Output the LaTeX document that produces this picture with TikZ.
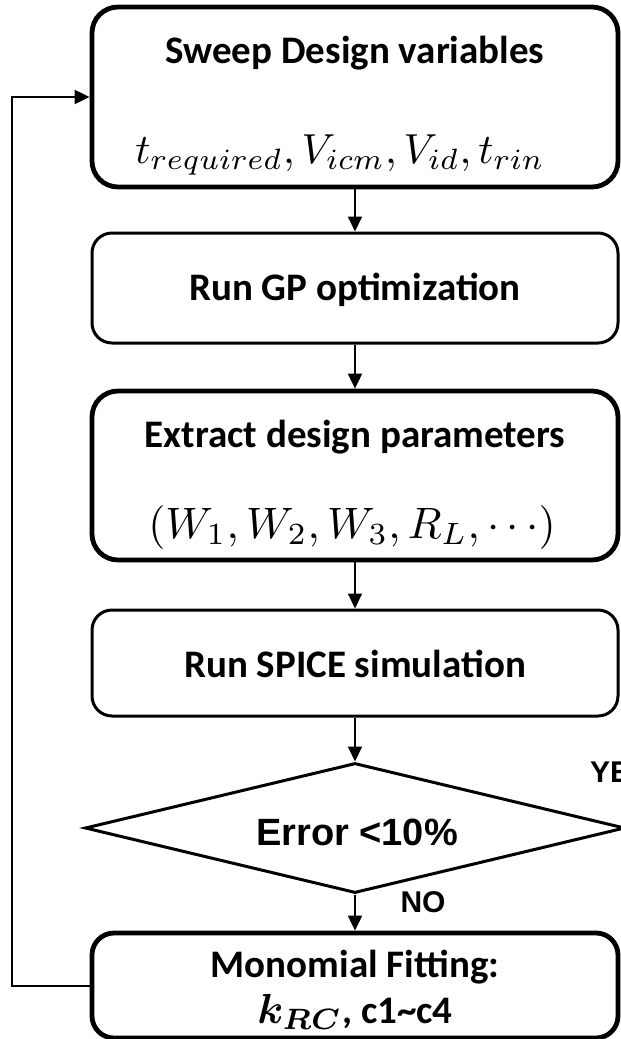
\documentclass[tikz,border=0pt]{standalone}
\usepackage{graphicx}
\usepackage{fontspec}
\setmainfont{Carlito}
\newfontfamily\arialfont{Liberation Sans}
\usetikzlibrary{arrows.meta,shapes.geometric}
\tikzset{
  box/.style={draw=black, line width=3pt, rounded corners=20pt, minimum width=526pt, inner sep=0pt},
  thickbox/.style={box, line width=4.8pt, rounded corners=26pt},
  lbl/.style={anchor=base, inner sep=0pt, font=\bfseries\fontsize{39}{47}\selectfont},
  mathlbl/.style={anchor=base, inner sep=0pt, font=\normalsize},
  decision/.style={draw=black, line width=3pt, shape=diamond, minimum width=540pt, minimum height=130pt, inner sep=0pt},
  arr/.style={line width=2pt, -{Triangle[length=15pt,width=14pt]}},
  yn/.style={anchor=base, inner sep=0pt, font=\arialfont\bfseries\fontsize{30}{36}\selectfont},
}
\newcommand{\bigmath}[2][3.9]{\scalebox{#1}{$#2$}}
\begin{document}
\begin{tikzpicture}[x=1pt,y=-1pt]
\useasboundingbox (0,0) rectangle (621,1039);
% boxes
\node[thickbox, minimum height=180pt] (b1) at (355,97) {};
\node[box, minimum height=110pt] (b2) at (355,288) {};
\node[thickbox, minimum height=169pt] (b3) at (355,475.5) {};
\node[box, minimum height=106pt] (b4) at (355,663) {};
\node[decision] (d) at (355,828) {};
\node[thickbox, minimum height=105pt, rounded corners=22pt] (b5) at (355,985.5) {};
% texts
\node[lbl] (t1) at (355,63) {Sweep Design variables};
\node[mathlbl] (m1) at (340,163) {\bigmath[4.2]{t_{required}, V_{icm}, V_{id}, t_{rin}}};
\node[lbl] (t2) at (355,300) {Run GP optimization};
\node[lbl] (t3) at (355,447) {Extract design parameters};
\node[mathlbl] (m3) at (352,538) {\bigmath[4.4]{(W_1, W_2, W_3, R_L, \cdots)}};
\node[lbl] (t4) at (355,677) {Run SPICE simulation};
\node[anchor=base, inner sep=0pt, font=\arialfont\bfseries\fontsize{38}{46}\selectfont] (te) at (357,845) {Error <10\%};
\node[lbl] (t5) at (355,977) {Monomial Fitting:};
\node[lbl] (t6) at (355,1023) {{\normalsize\boldmath\bigmath[4.2]{k_{RC}}}, c1\textasciitilde c4};
\node[yn] (no) at (423,912) {NO};
\node[yn, anchor=base west] (yes) at (590,782) {YES};
% connectors
\draw[arr] (b1.south) -- (b2.north);
\draw[arr] (b2.south) -- (b3.north);
\draw[arr] (b3.south) -- (b4.north);
\draw[arr] (b4.south) -- (d.north);
\draw[arr] (d.south) -- (b5.north);
\coordinate (fbx) at (12,0);
\draw[arr] (b5.west) -- (b5.west -| fbx) |- (b1.west);
\end{tikzpicture}
\end{document}
